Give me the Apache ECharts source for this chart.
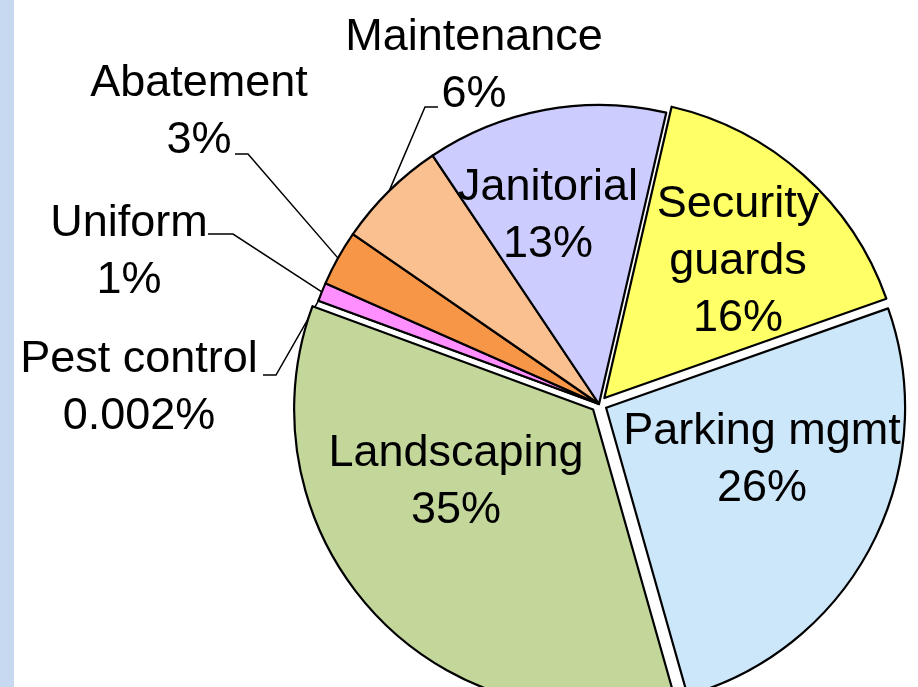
<!DOCTYPE html>
<html lang="en">
<head>
    <meta charset="UTF-8">
    <title>Facility services cost share</title>
    <script src="https://cdn.jsdelivr.net/npm/echarts@6/dist/echarts.min.js"></script>
    <style>
        html, body { margin: 0; padding: 0; background: #ffffff; }
        #main { width: 918px; height: 687px; }
        #strip { position: absolute; left: 0; top: 0; width: 14px; height: 687px; background: #c6d9f0; z-index: 2; }
    </style>
</head>
<body>
    <div id="strip"></div>
    <div id="main"></div>
    <script type="text/javascript">
        // slices, clockwise from the Janitorial/Security boundary
        var categories = ['Security\nguards', 'Parking mgmt', 'Landscaping', 'Pest control', 'Uniform', 'Abatement', 'Maintenance', 'Janitorial'];
        var shares = [16, 26, 35, 0.002, 1, 3, 6, 13];
        var colors = ['#ffff66', '#cce6fa', '#c4d79b', '#333399', '#ff8fff', '#f79646', '#fac090', '#ccccff'];
        var exploded = [true, true, true, false, false, false, false, false];
        var outsideLabel = [false, false, false, true, true, true, true, false];
        // label block centres (px)
        var labelPos = [[738, 262], [762, 460], [456, 482], [139, 388], [129, 252], [199, 112], [474, 66], [548, 216]];
        // leader line elbow + end next to the text, Excel style
        var lineEnds = [null, null, null, [[276, 375], [263, 375]], [[233, 234], [208, 234]], [[248, 154], [235, 154]], [[425, 107], [438, 107]], null];

        var myChart = echarts.init(document.getElementById('main'));

        var center = [599, 404];
        var radius = 299;

        // series 1: the slices, three of them pulled out
        var sliceData = categories.map(function (name, i) {
            return {
                name: name,
                value: shares[i],
                selected: exploded[i],
                itemStyle: { color: colors[i] }
            };
        });

        // series 2: same slices, invisible, only carries the labels
        var labelData = categories.map(function (name, i) {
            return {
                name: name,
                value: shares[i],
                label: { position: outsideLabel[i] ? 'outside' : 'inside' },
                labelLine: { show: outsideLabel[i] }
            };
        });

        var option = {
            animation: false,
            series: [{
                type: 'pie',
                center: center,
                radius: [0, radius],
                startAngle: 77,
                clockwise: true,
                selectedMode: 'multiple',
                selectedOffset: 8,
                itemStyle: { borderColor: '#000000', borderWidth: 2.2 },
                select: { itemStyle: { borderColor: '#000000', borderWidth: 2.2 } },
                emphasis: { disabled: true },
                label: { show: false },
                labelLine: { show: false },
                data: sliceData
            }, {
                type: 'pie',
                center: center,
                radius: [0, radius],
                startAngle: 77,
                clockwise: true,
                silent: true,
                avoidLabelOverlap: false,
                itemStyle: { color: 'rgba(0,0,0,0)', borderWidth: 0 },
                emphasis: { disabled: true },
                label: {
                    show: true,
                    fontFamily: 'Liberation Sans, Arial, sans-serif',
                    fontSize: 45,
                    lineHeight: 57,
                    color: '#000000',
                    align: 'center',
                    formatter: function (p) { return p.name + '\n' + p.value + '%'; }
                },
                labelLine: {
                    show: true,
                    length: 10,
                    length2: 10,
                    lineStyle: { color: '#000000', width: 1.5 }
                },
                labelLayout: function (p) {
                    var i = p.dataIndex;
                    var pos = labelPos[i];
                    var res = { x: pos[0], y: pos[1], align: 'center', verticalAlign: 'middle' };
                    if (lineEnds[i] && p.labelLinePoints) {
                        res.labelLinePoints = [p.labelLinePoints[0], lineEnds[i][0], lineEnds[i][1]];
                    }
                    return res;
                },
                data: labelData
            }]
        };

        myChart.setOption(option);
    </script>
</body>
</html>
